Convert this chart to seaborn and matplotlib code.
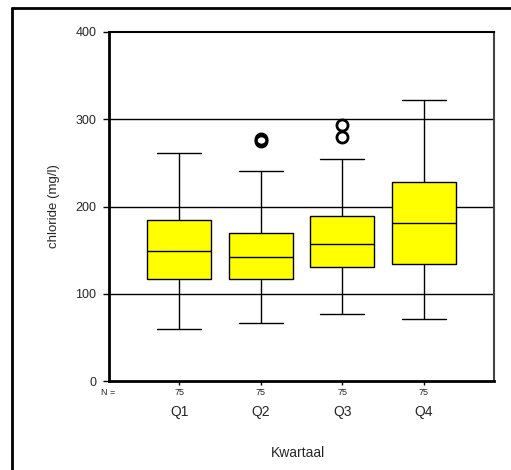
import matplotlib
matplotlib.use("Agg")
import matplotlib.pyplot as plt
import seaborn as sns
import pandas as pd
from matplotlib.lines import Line2D

# representative values per quarter (whiskers, quartiles, median, outliers)
q1_vals = [59.6, 116.8, 116.8, 149, 184.8, 184.8, 261]
q2_vals = [66.8, 117, 117, 117, 142, 142, 142, 170, 170, 170, 240.5, 275, 277]
q3_vals = [76.7, 131, 131, 131, 157, 157, 157, 189, 189, 189, 254, 280, 293]
q4_vals = [71, 133.7, 133.7, 180.6, 228, 228, 321.5]

quarters = ["Q1", "Q2", "Q3", "Q4"]
n_counts = [75, 75, 75, 75]
yticks = [0, 100, 200, 300, 400]

rows = []
for q, vals in zip(quarters, [q1_vals, q2_vals, q3_vals, q4_vals]):
    for v in vals:
        rows.append({"Kwartaal": q, "chloride": v})
df = pd.DataFrame(rows)

sns.set_style("white")
plt.rcParams["font.family"] = ["Liberation Sans", "DejaVu Sans"]

fig = plt.figure(figsize=(5.11, 4.70), dpi=100)
ax = fig.add_axes([109/511, 1-381/470, 385/511, 349/470])

ax.set_axisbelow(True)
for t in [100, 200, 300]:
    ax.axhline(t, color="black", lw=1, zorder=0)

sns.boxplot(data=df, x="Kwartaal", y="chloride", order=quarters, ax=ax,
            color="#ffff00", linecolor="black", linewidth=1, width=0.78,
            saturation=1, capwidths=0.54,
            flierprops=dict(marker="o", markerfacecolor="none",
                            markeredgecolor="black", markersize=8,
                            markeredgewidth=2))

ax.set_ylim(0, 400)
ax.set_xlim(-0.86, 3.86)
ax.set_yticks(yticks)
ax.set_yticklabels([str(t) for t in yticks], fontsize=9)
ax.set_xticks(range(len(quarters)))
ax.set_xticklabels([str(n) for n in n_counts], fontsize=6.5)
ax.tick_params(axis="y", direction="out", length=4, width=1, pad=5, left=True, color="black")
ax.tick_params(axis="x", direction="out", length=3, width=1, pad=2, bottom=True, color="black")

for s in ["left", "bottom", "top"]:
    ax.spines[s].set_color("black")
ax.spines["left"].set_linewidth(2)
ax.spines["bottom"].set_linewidth(2)
ax.spines["top"].set_linewidth(1.5)
ax.spines["right"].set_color("#444444")
ax.spines["right"].set_linewidth(1.5)

ax.set_xlabel("")
ax.set_ylabel("chloride (mg/l)", fontsize=9.5, labelpad=11)

for i, q in enumerate(quarters):
    ax.text(i, -0.09, q, transform=ax.get_xaxis_transform(),
            ha="center", va="center", fontsize=10)
ax.text(0.016, -0.034, "N =", transform=ax.transAxes, ha="right", va="center", fontsize=6.5)

fig.text(298/511, 1-453/470, "Kwartaal", ha="center", va="center", fontsize=10)

# outer frame (left and top edges)
fig.add_artist(Line2D([12/511, 12/511], [0, 1-8/470], color="black", lw=2, transform=fig.transFigure))
fig.add_artist(Line2D([12/511, 1], [1-8/470, 1-8/470], color="black", lw=2, transform=fig.transFigure))

fig.savefig("out.png", dpi=100)
